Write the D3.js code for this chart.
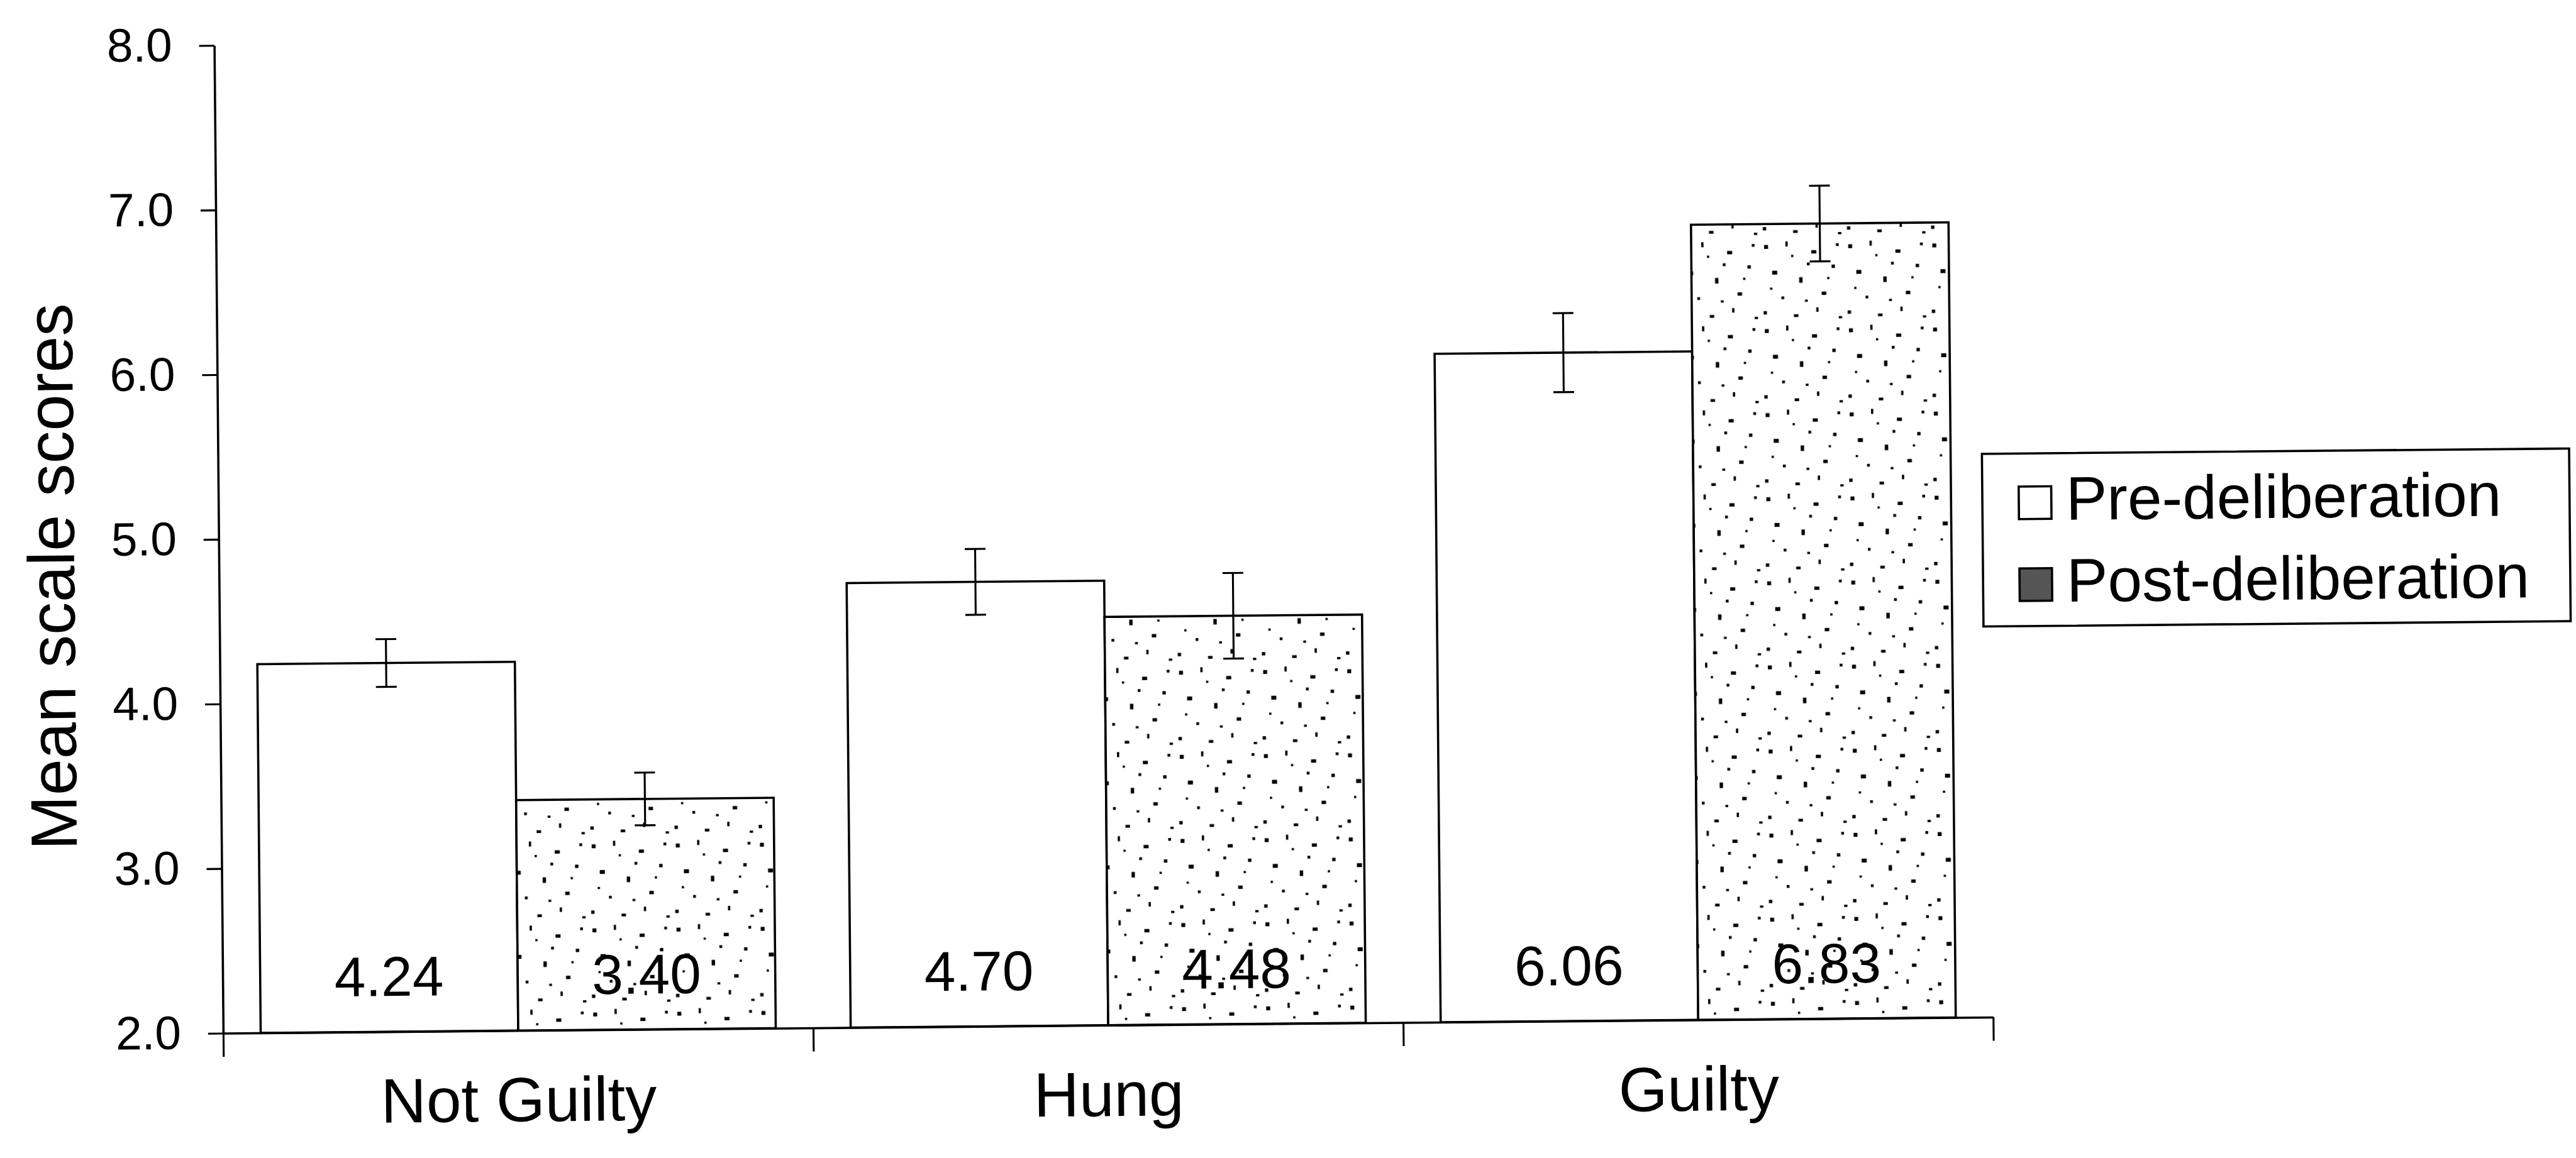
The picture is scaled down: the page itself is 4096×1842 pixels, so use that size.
<!DOCTYPE html>
<html>
<head>
<meta charset="utf-8">
<script src="https://cdn.jsdelivr.net/npm/d3@7"></script>
<style>
  html, body { margin: 0; padding: 0; background: #fff; }
  svg { display: block; }
  text { font-family: "Liberation Sans", Arial, Helvetica, sans-serif; fill: #000; }
</style>
</head>
<body>
<svg id="chart"></svg>
<script>
// values
var categories = ['Not Guilty', 'Hung', 'Guilty'];
var seriesNames = ['Pre-deliberation', 'Post-deliberation'];
var preMeans = [4.24, 4.70, 6.06];
var postMeans = [3.40, 4.48, 6.83];
var preErrors = [0.145, 0.20, 0.24];
var postErrors = [0.16, 0.26, 0.23];
var yTicks = [2, 3, 4, 5, 6, 7, 8];
var yTitle = 'Mean scale scores';

// reference is 4593 x 2066, drawn into 4096 x 1842
var k = 4096 / 4593;

var svg = d3.select('#chart')
  .attr('width', 4096)
  .attr('height', 1842);

svg.append('rect').attr('width', 4096).attr('height', 1842).attr('fill', '#fff');

// speckled texture of the scanned grey bars
var defs = svg.append('defs');
var pat = defs.append('pattern')
  .attr('id', 'speckle')
  .attr('patternUnits', 'userSpaceOnUse')
  .attr('width', 150).attr('height', 150);
pat.append('rect').attr('width', 150).attr('height', 150).attr('fill', '#fff');
[[8, 12, 7, 7], [46, 6, 4, 9], [92, 22, 9, 6], [128, 48, 6, 6], [22, 58, 9, 7],
 [70, 70, 6, 10], [110, 96, 8, 6], [38, 104, 5, 5], [84, 44, 5, 5], [6, 130, 6, 6],
 [136, 10, 5, 5], [60, 136, 8, 5], [100, 124, 4, 8], [140, 140, 6, 4], [18, 88, 4, 4],
 [56, 30, 4, 4], [120, 70, 4, 4], [80, 110, 5, 4]].forEach(function(d) {
  pat.append('rect').attr('x', d[0]).attr('y', d[1]).attr('width', d[2]).attr('height', d[3]).attr('fill', '#000');
});

// the scan is tilted by about half a degree
var root = svg.append('g')
  .attr('transform', 'scale(' + k + ') rotate(-0.52 398 1843)');

var x0 = 398, x1 = 3554, yTop = 81, yBase = 1843;

var y = d3.scaleLinear().domain([2, 8]).range([yBase, yTop]);
var x = d3.scaleBand().domain(categories).range([x0, x1]).paddingInner(0.127).paddingOuter(0.0635);
var xs = d3.scaleBand().domain(seriesNames).range([0, x.bandwidth()]);
var xEdge = d3.scaleLinear().domain([0, categories.length]).range([x0, x1]);

var bars = [];
categories.forEach(function(c, i) {
  bars.push({ cat: c, series: seriesNames[0], mean: preMeans[i], err: preErrors[i] });
  bars.push({ cat: c, series: seriesNames[1], mean: postMeans[i], err: postErrors[i] });
});

// bars
root.append('g').attr('class', 'bars')
  .selectAll('rect')
  .data(bars)
  .enter()
  .append('rect')
  .attr('x', function(d) { return x(d.cat) + xs(d.series); })
  .attr('y', function(d) { return y(d.mean); })
  .attr('width', xs.bandwidth())
  .attr('height', function(d) { return y(2) - y(d.mean); })
  .attr('fill', function(d) { return d.series === seriesNames[0] ? '#fff' : 'url(#speckle)'; })
  .attr('stroke', '#000')
  .attr('stroke-width', 4);

// value labels inside the base of each bar
root.append('g').attr('class', 'values')
  .selectAll('text')
  .data(bars)
  .enter()
  .append('text')
  .attr('x', function(d) { return x(d.cat) + xs(d.series) + xs.bandwidth() / 2; })
  .attr('y', y(2) - 64)
  .attr('text-anchor', 'middle')
  .style('font-size', '100px')
  .text(function(d) { return d.mean.toFixed(2); });

// error bars
var capW = 37;
var eb = root.append('g').attr('class', 'errors')
  .selectAll('g')
  .data(bars)
  .enter()
  .append('g')
  .attr('stroke', '#000')
  .attr('stroke-width', 3.5);
eb.append('line')
  .attr('x1', function(d) { return x(d.cat) + xs(d.series) + xs.bandwidth() / 2; })
  .attr('x2', function(d) { return x(d.cat) + xs(d.series) + xs.bandwidth() / 2; })
  .attr('y1', function(d) { return y(d.mean + d.err); })
  .attr('y2', function(d) { return y(d.mean - d.err); });
[1, -1].forEach(function(s) {
  eb.append('line')
    .attr('x1', function(d) { return x(d.cat) + xs(d.series) + xs.bandwidth() / 2 - capW / 2; })
    .attr('x2', function(d) { return x(d.cat) + xs(d.series) + xs.bandwidth() / 2 + capW / 2; })
    .attr('y1', function(d) { return y(d.mean + s * d.err); })
    .attr('y2', function(d) { return y(d.mean + s * d.err); });
});

// y axis
var yAxisGroup = root.append('g')
  .attr('transform', 'translate(' + x0 + ',0)')
  .call(d3.axisLeft(y).tickValues(yTicks).tickFormat(d3.format('.1f'))
    .tickSizeInner(27).tickSizeOuter(0).tickPadding(48));
yAxisGroup.select('.domain').attr('stroke-width', 4);
yAxisGroup.selectAll('.tick line').attr('stroke-width', 3.5);
yAxisGroup.selectAll('.tick text')
  .style('font-size', '84px')
  .style('font-family', '"Liberation Sans", Arial, sans-serif')
  .attr('fill', '#000');

// x axis: ticks on the category boundaries
var xAxisGroup = root.append('g')
  .attr('transform', 'translate(0,' + yBase + ')')
  .call(d3.axisBottom(xEdge).tickValues(d3.range(0, categories.length + 1))
    .tickFormat('').tickSizeInner(42).tickSizeOuter(0));
xAxisGroup.select('.domain').attr('stroke-width', 4);
xAxisGroup.selectAll('.tick line').attr('stroke-width', 3.5);

// category labels
var catGroup = root.append('g')
  .attr('transform', 'translate(0,' + yBase + ')')
  .call(d3.axisBottom(x).tickSize(0));
catGroup.select('.domain').remove();
catGroup.selectAll('.tick text')
  .attr('y', 162)
  .attr('dy', 0)
  .style('font-size', '112px')
  .style('font-family', '"Liberation Sans", Arial, sans-serif')
  .attr('fill', '#000');

// y axis title
root.append('text')
  .attr('transform', 'translate(140,1026) rotate(-90)')
  .attr('text-anchor', 'middle')
  .style('font-size', '117px')
  .text(yTitle);

// legend
var legend = root.append('g').attr('class', 'legend');
legend.append('rect')
  .attr('x', 3543).attr('y', 838)
  .attr('width', 1047).attr('height', 308)
  .attr('fill', '#fff')
  .attr('stroke', '#000')
  .attr('stroke-width', 4);

var item = legend.selectAll('g.item')
  .data(seriesNames)
  .enter()
  .append('g')
  .attr('class', 'item')
  .attr('transform', function(d, i) { return 'translate(0,' + (i * 146) + ')'; });
item.append('rect')
  .attr('x', 3608).attr('y', 897)
  .attr('width', 58).attr('height', 58)
  .attr('fill', function(d, i) { return i === 0 ? '#fff' : '#555'; })
  .attr('stroke', '#000')
  .attr('stroke-width', 4);
item.append('text')
  .attr('x', 3692).attr('y', 957)
  .style('font-size', '110px')
  .text(function(d) { return d; });
</script>
</body>
</html>
